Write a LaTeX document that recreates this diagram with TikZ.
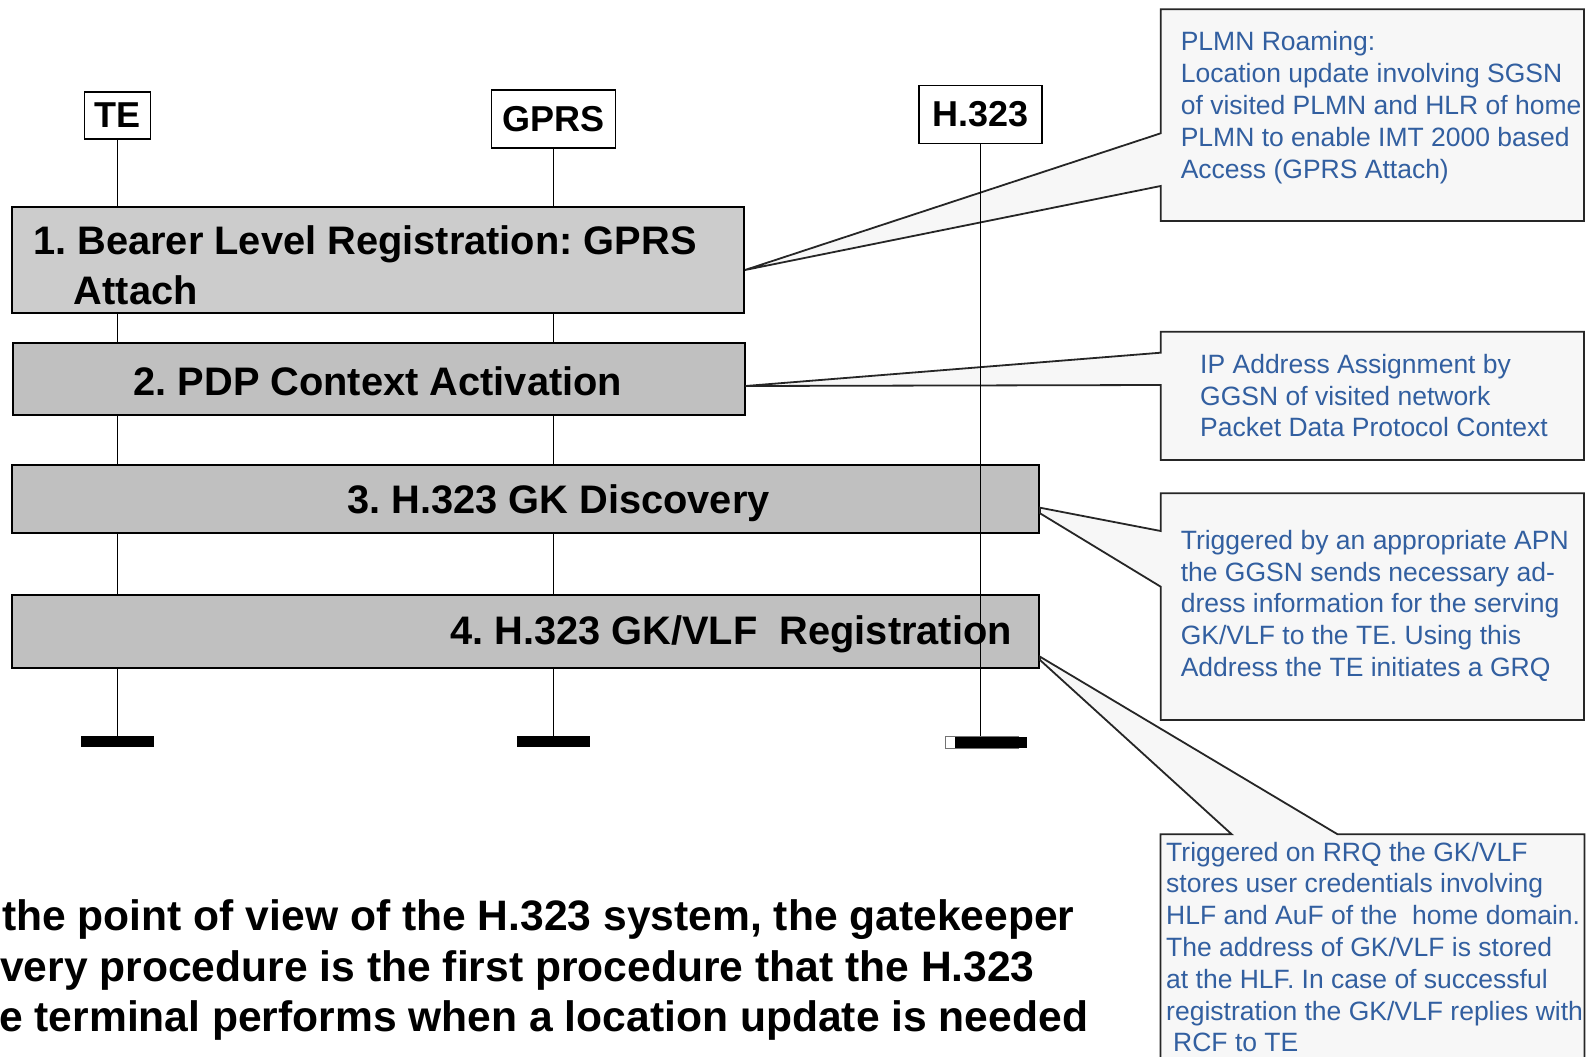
\documentclass[tikz,border=0pt]{standalone}
\usepackage{fontspec}
\setmainfont{Liberation Sans}
\frenchspacing
\definecolor{noteblue}{RGB}{50,95,160}
\definecolor{notebg}{HTML}{F7F7F7}
\definecolor{stagelight}{HTML}{CCCCCC}
\definecolor{stagegray}{HTML}{C0C0C0}
\begin{document}
\begin{tikzpicture}[x=1pt,y=-1pt,
  head/.style={draw, line width=1.6pt, fill=white, inner sep=0pt,
    font=\bfseries\fontsize{36}{40}\selectfont},
  stagebox/.style={draw, line width=2pt, inner sep=0pt, anchor=north west},
  stagetext/.style={anchor=base west, inner sep=0pt,
    font=\bfseries\fontsize{39.8}{48}\selectfont},
  life/.style={line width=1.6pt},
  endbar/.style={fill=black, inner sep=0pt, minimum width=73pt, minimum height=11pt},
  note/.style={draw=black!85, line width=1.8pt, fill=notebg, line join=miter},
  notetext/.style={anchor=base west, inner sep=0pt, text=noteblue,
    font=\fontsize{26.5}{31.8}\selectfont},
  bottomtext/.style={anchor=base west, inner sep=0pt,
    font=\bfseries\fontsize{42.6}{50}\selectfont}]

\useasboundingbox[fill=white] (0,0) rectangle (1587,1057);

% ---- entity heads
\node[head, minimum width=66pt, minimum height=47pt] (te) at (117.4,115.5) {TE};
\node[head, minimum width=124pt, minimum height=58pt] (gprs) at (553.6,119) {GPRS};
\node[head, minimum width=123pt, minimum height=58pt] (h323) at (980.5,114.5) {H.323};

% ---- lifeline ends
\node[endbar] (tebar) at (117.4,741.5) {};
\node[endbar] (gprsbar) at (553.6,741.5) {};
\node[draw=black!55, line width=1pt, fill=white, inner sep=0pt,
      minimum width=73pt, minimum height=12pt] (hbar) at (981.5,742) {};
\fill (955,736.5) rectangle (1027,747.5);

% ---- lifelines TE and GPRS (behind the stages)
\draw[life] (te.south) -- (te.south |- tebar.north);
\draw[life] (gprs.south) -- (gprs.south |- gprsbar.north);

% ---- stages
\node[stagebox, fill=stagelight, minimum width=732pt, minimum height=106pt] (b1) at (11,206) {};
\node[stagebox, fill=stagegray, minimum width=732pt, minimum height=72pt] (b2) at (11.5,342) {};
\node[stagebox, fill=stagegray, minimum width=1027pt, minimum height=67.5pt] (b3) at (11,464) {};
\node[stagebox, fill=stagegray, minimum width=1027pt, minimum height=72.5pt] (b4) at (11,594) {};

\node[stagetext] (b1a) at (33,254.5) {1. Bearer Level Registration: GPRS};
\node[stagetext] (b1b) at (73.7,304.5) {Attach};
\node[stagetext] (b2t) at (133.3,395) {2. PDP Context Activation};
\node[stagetext] (b3t) at (347,513) {3. H.323 GK Discovery};
\node[stagetext] (b4t) at (450,644.5) {4. H.323 GK/VLF\ \ Registration};

% ---- callouts with their pointers
\draw[note] (1160.7,9.3) -- (1584,9.3) -- (1584,221) -- (1160.7,221) -- (1160.7,186)
  -- (b1.east |- 0,270) -- (1160.7,133.3) -- cycle;
\draw[note] (1160.7,331.7) -- (1584,331.7) -- (1584,460) -- (1160.7,460) -- (1160.7,385)
  -- (b2.east |- 0,386) -- (1160.7,352.7) -- cycle;
\draw[note] (1160.7,493.3) -- (1584,493.3) -- (1584,720) -- (1160.7,720) -- (1160.7,586.7)
  -- (b3.east |- 0,513.3) -- (b3.east |- 0,507.7) -- (1160.7,531) -- cycle;
\draw[note] (1160.4,834.3) -- (1231.7,834.3) -- (b4.east |- 0,660) -- (b4.east |- 0,656.7)
  -- (1337.6,834.3) -- (1584.5,834.3) -- (1584.5,1075) -- (1160.4,1075) -- cycle;

\node[notetext] (n1) at (1180.6,51) {\begin{tabular}[t]{@{}l@{}}
PLMN Roaming:\\
Location update involving SGSN\\
of visited PLMN and HLR of home\\
PLMN to enable IMT 2000 based\\
Access (GPRS Attach)\end{tabular}};
\node[notetext] (n2) at (1200,373.3) {\begin{tabular}[t]{@{}l@{}}
IP Address Assignment by\\
GGSN of visited network\\
Packet Data Protocol Context\end{tabular}};
\node[notetext] (n3) at (1180.6,549.3) {\begin{tabular}[t]{@{}l@{}}
Triggered by an appropriate APN\\
the GGSN sends necessary ad-\\
dress information for the serving\\
GK/VLF to the TE. Using this\\
Address the TE initiates a GRQ\end{tabular}};
\node[notetext] (n4) at (1166,861) {\begin{tabular}[t]{@{}l@{}}
Triggered on RRQ the GK/VLF\\
stores user credentials involving\\
HLF and AuF of the\ \ home domain.\\
The address of GK/VLF is stored\\
at the HLF. In case of successful\\
registration the GK/VLF replies with\\
\hspace{7pt}RCF to TE\end{tabular}};

% ---- H.323 lifeline, drawn over everything it crosses
\draw[life] (h323.south) -- (h323.south |- hbar.north);

% ---- explanatory text
\node[bottomtext] (t1) at (2,930) {the point of view of the H.323 system, the gatekeeper};
\node[bottomtext] (t2) at (0,981) {very procedure is the first procedure that the H.323};
\node[bottomtext] (t3) at (-1,1031) {e terminal performs when a location update is needed};
\end{tikzpicture}
\end{document}
